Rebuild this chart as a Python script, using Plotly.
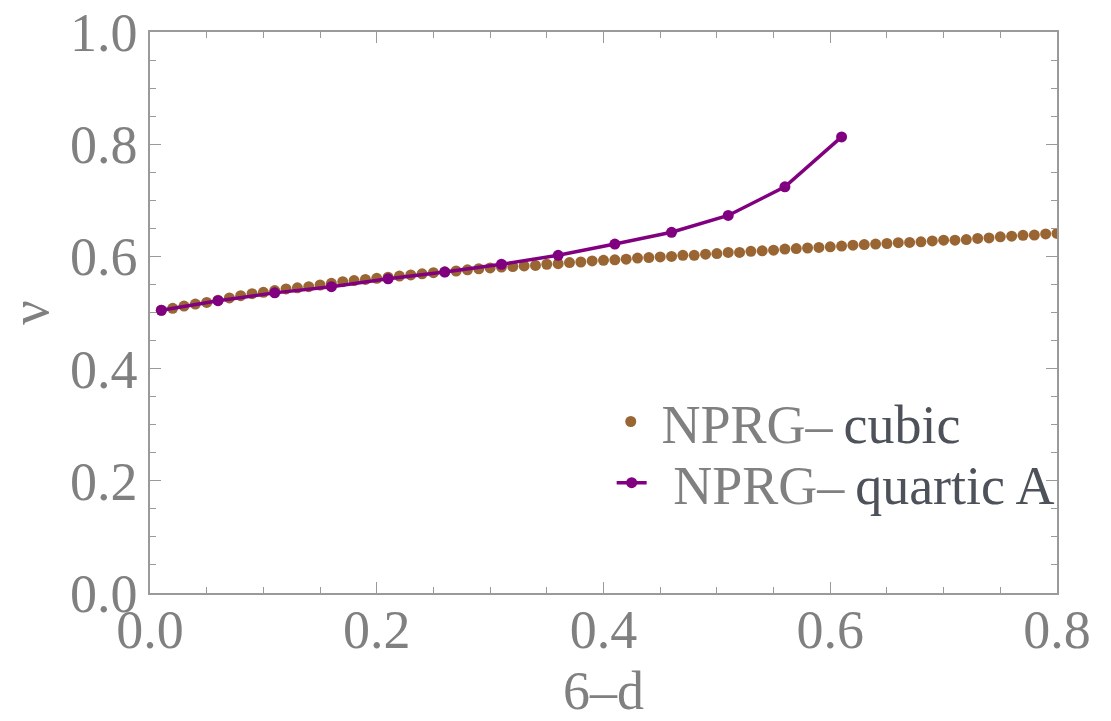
import plotly.graph_objects as go

# NPRG-cubic: nu vs 6-d
cubic_x = [round(0.01 * i, 2) for i in range(1, 81)]
cubic_y = [
    0.504, 0.5075, 0.5115, 0.515, 0.518, 0.522, 0.526, 0.530, 0.5335, 0.536,
    0.539, 0.542, 0.544, 0.546, 0.549, 0.552, 0.555, 0.557, 0.559, 0.561,
    0.563, 0.565, 0.567, 0.569, 0.571, 0.5725, 0.574, 0.576, 0.578, 0.5795,
    0.581, 0.582, 0.583, 0.584, 0.586, 0.587, 0.589, 0.590, 0.592, 0.593,
    0.594, 0.595, 0.597, 0.598, 0.599, 0.600, 0.602, 0.602, 0.604, 0.605,
    0.607, 0.607, 0.609, 0.610, 0.611, 0.613, 0.614, 0.615, 0.616, 0.617,
    0.6185, 0.620, 0.621, 0.622, 0.623, 0.6245, 0.625, 0.626, 0.6275, 0.629,
    0.629, 0.630, 0.632, 0.633, 0.635, 0.636, 0.6375, 0.638, 0.640, 0.641,
]

# NPRG-quartic A
quartic_x = [0.01, 0.06, 0.11, 0.16, 0.21, 0.26, 0.31, 0.36, 0.41, 0.46, 0.51, 0.56, 0.61]
quartic_y = [0.504, 0.521, 0.535, 0.546, 0.560, 0.572, 0.586, 0.602, 0.622, 0.643, 0.673, 0.724, 0.813]

x_ticks = [0.0, 0.2, 0.4, 0.6, 0.8]
y_ticks = [0.0, 0.2, 0.4, 0.6, 0.8, 1.0]

FONT = "Liberation Serif"
GRAY = "#808080"
DARK = "#4d525a"
FRAME = "#9a9a9a"
TS = "\u2009"

fig = go.Figure()
fig.add_trace(go.Scatter(
    x=cubic_x, y=cubic_y, mode="markers",
    marker=dict(color="#996633", size=11),
    name=TS + "NPRG\u2013" + TS + "<span style='color:%s'>cubic</span>" % DARK,
    legend="legend",
))
fig.add_trace(go.Scatter(
    x=quartic_x, y=quartic_y, mode="lines+markers",
    line=dict(color="#800080", width=3.5),
    marker=dict(color="#800080", size=11),
    name=TS + TS + "NPRG\u2013" + TS + "<span style='color:%s'>quartic A</span>" % DARK,
    legend="legend2",
))

axis_common = dict(
    showgrid=False, zeroline=False, automargin=False,
    showline=True, linecolor=FRAME, linewidth=1.5, mirror="ticks",
    ticks="inside", ticklen=11, tickwidth=1.2, tickcolor=FRAME,
    tickfont=dict(family=FONT, size=54, color=GRAY),
    minor=dict(ticks="inside", ticklen=6, tickwidth=1, tickcolor=FRAME, dtick=0.05),
)

leg_common = dict(
    xanchor="left", yanchor="middle",
    bgcolor="rgba(0,0,0,0)",
    font=dict(family=FONT, size=54, color=GRAY),
)

fig.update_layout(
    width=1111, height=721,
    margin=dict(l=150, r=54, t=32, b=128),
    paper_bgcolor="white", plot_bgcolor="white",
    showlegend=True,
    legend=dict(x=0.508, y=0.305, **leg_common),
    legend2=dict(x=0.509, y=0.196, **leg_common),
    xaxis=dict(
        range=[0, 0.8], tickvals=x_ticks, tickformat=".1f", ticklabelstandoff=-12,
        title=dict(text="6\u2013d", font=dict(family=FONT, size=54, color=GRAY), standoff=44),
        **axis_common,
    ),
    yaxis=dict(
        range=[0, 1.0], tickvals=y_ticks, tickformat=".1f",
        title=dict(text="\u03bd", font=dict(family=FONT, size=54, color=GRAY), standoff=22),
        **axis_common,
    ),
)

fig.write_html(
    "out.html",
    config={"displayModeBar": False},
    post_script="document.body.style.margin='0';",
)
